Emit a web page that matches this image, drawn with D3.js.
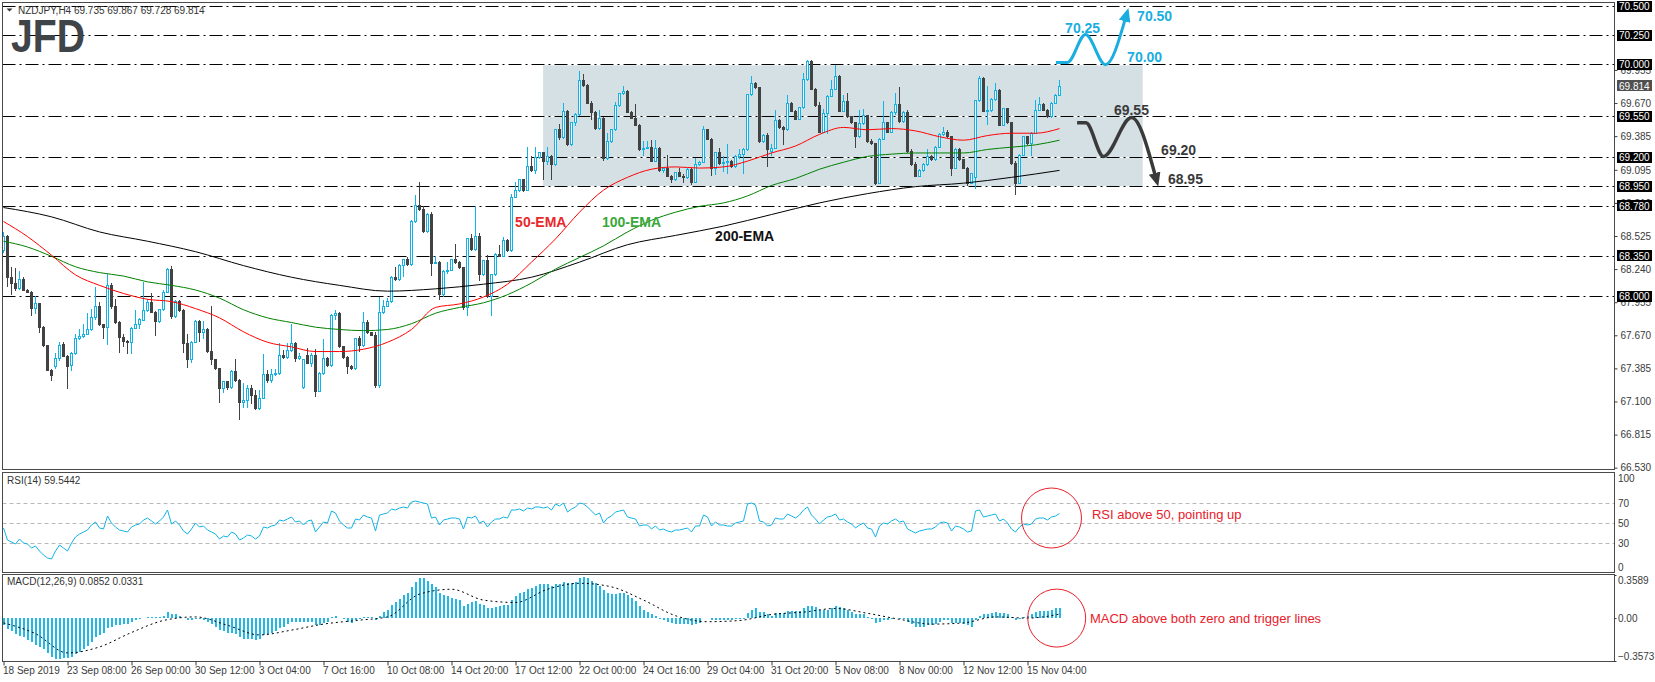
<!DOCTYPE html>
<html>
<head>
<meta charset="utf-8">
<title>NZDJPY H4</title>
<script src="https://cdn.jsdelivr.net/npm/d3@7"></script>
<style>
  html, body { margin: 0; padding: 0; background: #ffffff; }
  svg { display: block; font-family: "Liberation Sans", Arial, sans-serif; }
</style>
</head>
<body>
<div id="chart"></div>
<script>
// NZDJPY H4 bars (bar 0 = 18 Sep 2019)
var opens = [
  68.40, 68.52, 68.17, 68.12, 68.07, 68.15, 68.06, 68.04, 67.90, 67.94,
  67.74, 67.58, 67.37, 67.40, 67.47, 67.59, 67.49, 67.41, 67.51, 67.64,
  67.66, 67.68, 67.72, 67.82, 67.92, 67.76, 67.74, 68.10, 67.92, 67.78,
  67.65, 67.62, 67.61, 67.73, 67.76, 67.80, 67.88, 67.95, 67.87, 67.79,
  67.89, 68.04, 68.24, 67.83, 67.96, 67.88, 67.60, 67.46, 67.61, 67.79,
  67.69, 67.72, 67.53, 67.46, 67.38, 67.21, 67.27, 67.22, 67.36, 67.28,
  67.09, 67.11, 67.21, 67.15, 67.04, 67.13, 67.33, 67.28, 67.33, 67.34,
  67.50, 67.48, 67.54, 67.60, 67.47, 67.22, 67.50, 67.43, 67.50, 67.19,
  67.34, 67.47, 67.41, 67.84, 67.86, 67.57, 67.48, 67.40, 67.38, 67.64,
  67.58, 67.78, 67.69, 67.67, 67.24, 67.87, 67.92, 67.96, 68.17, 68.15,
  68.27, 68.32, 68.28, 68.65, 68.79, 68.75, 68.56, 68.71, 68.29, 68.30,
  68.02, 68.22, 68.23, 68.32, 68.30, 68.25, 67.91, 68.50, 68.41, 68.52,
  68.19, 68.31, 68.00, 68.19, 68.37, 68.35, 68.49, 68.40, 68.86, 68.92,
  69.01, 68.92, 69.12, 69.09, 69.20, 69.24, 69.17, 69.21, 69.14, 69.44,
  69.37, 69.60, 69.31, 69.50, 69.57, 69.86, 69.82, 69.67, 69.59, 69.45,
  69.54, 69.19, 69.34, 69.44, 69.65, 69.75, 69.77, 69.59, 69.54, 69.48,
  69.27, 69.28, 69.29, 69.17, 69.28, 69.09, 69.11, 69.04, 69.01, 69.07,
  69.04, 69.03, 69.10, 68.99, 69.14, 69.16, 69.44, 69.36, 69.11, 69.24,
  69.15, 69.16, 69.17, 69.12, 69.21, 69.23, 69.27, 69.74, 69.84, 69.80,
  69.34, 69.39, 69.25, 69.28, 69.52, 69.46, 69.44, 69.67, 69.60, 69.53,
  69.63, 69.87, 70.03, 69.79, 69.65, 69.42, 69.58, 69.73, 69.79, 69.90,
  69.60, 69.68, 69.55, 69.50, 69.38, 69.49, 69.56, 69.34, 69.32, 68.98,
  69.36, 69.50, 69.42, 69.59, 69.66, 69.51, 69.59, 69.25, 69.145, 69.04,
  69.09, 69.14, 69.21, 69.18, 69.29, 69.40, 69.42, 69.38, 69.11, 69.27,
  69.18, 69.11, 68.98, 69.03, 69.69, 69.88, 69.60, 69.61, 69.70, 69.78,
  69.48, 69.62, 69.50, 69.15, 68.98, 69.22, 69.38, 69.32, 69.41, 69.61,
  69.66, 69.61, 69.55, 69.67, 69.735
];
var highs = [
  68.56, 68.53, 68.26, 68.25, 68.22, 68.17, 68.07, 68.05, 68.01, 67.95,
  67.75, 67.59, 67.38, 67.52, 67.61, 67.61, 67.50, 67.53, 67.68, 67.72,
  67.77, 67.86, 67.90, 68.09, 67.96, 67.77, 68.20, 68.12, 67.98, 67.79,
  67.68, 67.63, 67.74, 67.89, 67.82, 68.13, 67.98, 68.03, 67.88, 67.90,
  68.06, 68.25, 68.27, 67.97, 67.97, 67.90, 67.68, 67.62, 67.80, 67.80,
  67.79, 67.73, 67.92, 67.47, 67.39, 67.28, 67.28, 67.37, 67.47, 67.29,
  67.26, 67.24, 67.24, 67.20, 67.20, 67.51, 67.37, 67.38, 67.38, 67.60,
  67.54, 67.60, 67.77, 67.61, 67.52, 67.47, 67.56, 67.52, 67.55, 67.35,
  67.64, 67.48, 67.85, 67.89, 67.87, 67.58, 67.49, 67.41, 67.65, 67.66,
  67.87, 67.80, 67.70, 67.70, 68.00, 67.97, 67.99, 68.18, 68.26, 68.28,
  68.33, 68.34, 68.66, 68.88, 68.99, 68.78, 68.72, 68.73, 68.35, 68.31,
  68.23, 68.30, 68.33, 68.46, 68.31, 68.26, 68.51, 68.54, 68.78, 68.55,
  68.32, 68.36, 68.20, 68.38, 68.45, 68.52, 68.50, 68.89, 68.99, 69.02,
  69.02, 69.29, 69.21, 69.29, 69.25, 69.25, 69.29, 69.22, 69.45, 69.49,
  69.67, 69.61, 69.51, 69.58, 69.95, 69.92, 69.83, 69.69, 69.60, 69.61,
  69.55, 69.41, 69.45, 69.68, 69.76, 69.82, 69.78, 69.60, 69.66, 69.49,
  69.34, 69.34, 69.35, 69.35, 69.29, 69.12, 69.22, 69.05, 69.08, 69.11,
  69.06, 69.11, 69.11, 69.20, 69.17, 69.47, 69.45, 69.37, 69.25, 69.28,
  69.21, 69.32, 69.18, 69.22, 69.27, 69.28, 69.75, 69.90, 69.85, 69.81,
  69.40, 69.41, 69.32, 69.61, 69.53, 69.47, 69.74, 69.68, 69.61, 69.64,
  69.93, 70.04, 70.04, 69.80, 69.68, 69.62, 69.74, 69.87, 70.00, 69.91,
  69.74, 69.76, 69.56, 69.51, 69.61, 69.62, 69.57, 69.36, 69.33, 69.37,
  69.69, 69.51, 69.60, 69.76, 69.81, 69.60, 69.61, 69.27, 69.16, 69.10,
  69.15, 69.27, 69.22, 69.30, 69.41, 69.46, 69.44, 69.39, 69.28, 69.28,
  69.19, 69.12, 69.07, 69.70, 69.90, 69.89, 69.82, 69.71, 69.84, 69.79,
  69.63, 69.63, 69.51, 69.17, 69.23, 69.39, 69.39, 69.42, 69.70, 69.72,
  69.67, 69.62, 69.68, 69.75, 69.867
];
var lows = [
  68.38, 68.09, 68.02, 68.05, 68.06, 68.05, 68.03, 67.84, 67.85, 67.69,
  67.57, 67.36, 67.28, 67.38, 67.45, 67.48, 67.21, 67.36, 67.50, 67.63,
  67.65, 67.67, 67.71, 67.80, 67.75, 67.64, 67.59, 67.90, 67.77, 67.52,
  67.57, 67.51, 67.51, 67.72, 67.72, 67.79, 67.87, 67.86, 67.66, 67.78,
  67.88, 68.03, 67.81, 67.82, 67.87, 67.52, 67.39, 67.43, 67.60, 67.61,
  67.64, 67.52, 67.41, 67.37, 67.09, 67.17, 67.20, 67.21, 67.27, 66.94,
  67.04, 67.04, 67.08, 67.03, 67.03, 67.12, 67.26, 67.26, 67.32, 67.33,
  67.47, 67.47, 67.53, 67.44, 67.46, 67.21, 67.42, 67.40, 67.14, 67.18,
  67.33, 67.40, 67.40, 67.80, 67.56, 67.47, 67.34, 67.37, 67.37, 67.53,
  67.57, 67.68, 67.66, 67.22, 67.22, 67.85, 67.91, 67.95, 68.14, 68.14,
  68.17, 68.27, 68.27, 68.64, 68.74, 68.55, 68.55, 68.18, 68.28, 67.97,
  68.00, 68.20, 68.22, 68.28, 68.24, 67.89, 67.84, 68.40, 68.40, 68.14,
  68.18, 67.99, 67.84, 68.18, 68.34, 68.34, 68.39, 68.39, 68.85, 68.90,
  68.90, 68.91, 69.08, 69.06, 69.19, 69.01, 69.14, 69.01, 69.13, 69.35,
  69.36, 69.30, 69.30, 69.47, 69.56, 69.81, 69.66, 69.52, 69.44, 69.44,
  69.17, 69.18, 69.33, 69.43, 69.64, 69.74, 69.58, 69.53, 69.47, 69.26,
  69.21, 69.27, 69.16, 69.16, 69.08, 69.07, 69.03, 68.98, 69.00, 69.03,
  68.98, 69.02, 68.96, 68.98, 69.13, 69.15, 69.35, 69.04, 69.05, 69.14,
  69.08, 69.06, 69.11, 69.11, 69.19, 69.06, 69.26, 69.73, 69.79, 69.33,
  69.33, 69.12, 69.21, 69.27, 69.45, 69.31, 69.43, 69.59, 69.52, 69.52,
  69.62, 69.86, 69.78, 69.64, 69.41, 69.41, 69.40, 69.72, 69.78, 69.59,
  69.59, 69.54, 69.49, 69.28, 69.37, 69.48, 69.33, 69.31, 68.96, 68.97,
  69.35, 69.41, 69.41, 69.57, 69.50, 69.50, 69.24, 69.13, 69.03, 69.03,
  69.08, 69.13, 69.17, 69.17, 69.28, 69.39, 69.37, 69.04, 69.10, 69.17,
  69.10, 68.955, 68.97, 68.93, 69.68, 69.59, 69.48, 69.59, 69.69, 69.47,
  69.47, 69.49, 69.14, 68.88, 68.97, 69.21, 69.31, 69.21, 69.40, 69.60,
  69.60, 69.54, 69.54, 69.66, 69.728
];
var closes = [
  68.52, 68.17, 68.12, 68.07, 68.15, 68.06, 68.04, 67.90, 67.94, 67.74,
  67.58, 67.37, 67.32, 67.47, 67.58, 67.49, 67.40, 67.51, 67.64, 67.66,
  67.68, 67.72, 67.82, 67.92, 67.76, 67.74, 68.10, 67.92, 67.78, 67.65,
  67.62, 67.61, 67.73, 67.76, 67.81, 67.88, 67.95, 67.87, 67.79, 67.89,
  68.04, 68.24, 67.83, 67.96, 67.88, 67.60, 67.46, 67.61, 67.79, 67.69,
  67.72, 67.53, 67.46, 67.38, 67.21, 67.27, 67.22, 67.36, 67.28, 67.09,
  67.11, 67.21, 67.15, 67.04, 67.13, 67.33, 67.28, 67.33, 67.34, 67.50,
  67.48, 67.54, 67.60, 67.47, 67.49, 67.46, 67.43, 67.50, 67.19, 67.34,
  67.47, 67.41, 67.84, 67.86, 67.57, 67.48, 67.40, 67.38, 67.64, 67.58,
  67.78, 67.69, 67.67, 67.24, 67.87, 67.92, 67.96, 68.17, 68.15, 68.27,
  68.32, 68.28, 68.65, 68.79, 68.75, 68.56, 68.71, 68.29, 68.30, 68.02,
  68.22, 68.23, 68.32, 68.30, 68.25, 67.91, 68.50, 68.41, 68.52, 68.19,
  68.31, 68.00, 68.19, 68.37, 68.35, 68.49, 68.40, 68.86, 68.92, 69.01,
  68.92, 69.12, 69.09, 69.20, 69.24, 69.17, 69.21, 69.14, 69.44, 69.37,
  69.60, 69.31, 69.50, 69.57, 69.86, 69.82, 69.67, 69.59, 69.45, 69.54,
  69.19, 69.34, 69.44, 69.65, 69.75, 69.77, 69.59, 69.54, 69.48, 69.27,
  69.28, 69.29, 69.17, 69.28, 69.09, 69.11, 69.04, 69.01, 69.07, 69.04,
  69.03, 69.10, 68.99, 69.14, 69.16, 69.44, 69.36, 69.11, 69.24, 69.15,
  69.16, 69.17, 69.12, 69.21, 69.23, 69.27, 69.74, 69.84, 69.80, 69.34,
  69.39, 69.27, 69.28, 69.52, 69.46, 69.44, 69.67, 69.60, 69.53, 69.63,
  69.87, 70.03, 69.79, 69.65, 69.42, 69.58, 69.73, 69.79, 69.90, 69.60,
  69.68, 69.55, 69.50, 69.38, 69.49, 69.56, 69.34, 69.32, 68.98, 69.36,
  69.50, 69.42, 69.59, 69.66, 69.51, 69.59, 69.25, 69.145, 69.04, 69.09,
  69.14, 69.21, 69.18, 69.29, 69.40, 69.42, 69.38, 69.11, 69.27, 69.18,
  69.11, 68.98, 69.06, 69.69, 69.88, 69.60, 69.61, 69.70, 69.78, 69.48,
  69.62, 69.50, 69.15, 68.98, 69.22, 69.38, 69.32, 69.41, 69.61, 69.66,
  69.61, 69.55, 69.67, 69.735, 69.814
];

// moving averages read every 6 bars (200-EMA every 12 bars)
var emaStep = 6;
var ema50 = [
  68.65, 68.52, 68.36, 68.19, 68.10, 68.03, 67.98, 67.96, 67.90, 67.82,
  67.70, 67.61, 67.57, 67.53, 67.53, 67.55, 67.61, 67.72, 67.91, 67.94,
  68.00, 68.11, 68.30, 68.50, 68.73, 68.92, 69.03, 69.10, 69.12, 69.11,
  69.12, 69.17, 69.24, 69.30, 69.40, 69.46, 69.44, 69.45, 69.43, 69.38,
  69.35, 69.39, 69.41, 69.41, 69.45
];
var ema100 = [
  68.48, 68.43, 68.35, 68.26, 68.21, 68.18, 68.13, 68.10, 68.06, 67.99,
  67.89, 67.82, 67.78, 67.74, 67.72, 67.71, 67.72, 67.77, 67.86, 67.91,
  67.95, 68.02, 68.12, 68.24, 68.34, 68.44, 68.56, 68.66, 68.73, 68.78,
  68.81, 68.87, 68.96, 69.02, 69.10, 69.16, 69.21, 69.23, 69.24, 69.24,
  69.24, 69.27, 69.29, 69.31, 69.35
];
var ema200Step = 12;
var ema200 = [
  68.77, 68.69, 68.56, 68.48, 68.39, 68.27, 68.17, 68.10, 68.05, 68.07,
  68.11, 68.17, 68.30, 68.45, 68.53, 68.61, 68.71, 68.81, 68.89, 68.95,
  68.98, 69.03, 69.09
];

// RSI(14), one value per bar
var rsi = [
  45, 33, 31, 29, 34, 30, 29, 25, 27, 22,
  18, 15, 14, 22, 28, 25, 22, 30, 36, 39,
  41, 43, 48, 51, 45, 44, 57, 50, 46, 43,
  42, 41, 46, 48, 49, 53, 55, 52, 49, 52,
  56, 63, 49, 52, 48, 42, 39, 44, 50, 46,
  47, 43, 41, 39, 34, 37, 36, 41, 39, 33,
  35, 38, 37, 34, 37, 46, 45, 47, 48, 53,
  52, 54, 56, 51, 52, 48, 52, 53, 41, 46,
  51, 50, 62, 60, 52, 48, 45, 45, 54, 53,
  58, 56, 55, 42, 58, 59, 60, 64, 63, 65,
  66, 65, 71, 72, 71, 70, 69, 55, 56, 48,
  53, 54, 55, 55, 54, 44, 56, 55, 57, 50,
  52, 46, 51, 54, 54, 56, 55, 63, 63, 64,
  62, 65, 64, 66, 66, 65, 66, 63, 69, 67,
  70, 61, 64, 66, 70, 69, 66, 62, 58, 60,
  50, 55, 57, 61, 62, 63, 56, 55, 54, 47,
  48, 48, 44, 47, 43, 44, 42, 41, 43, 43,
  44, 45, 41, 47, 47, 58, 56, 47, 51, 48,
  48, 47, 47, 50, 51, 52, 69, 70, 68, 52,
  51, 47, 48, 55, 54, 54, 59, 57, 55, 58,
  63, 66, 58, 54, 49, 53, 56, 57, 59, 53,
  54, 51, 49, 45, 48, 50, 45, 44, 36, 47,
  50, 49, 52, 54, 51, 52, 44, 42, 40, 42,
  43, 44, 44, 46, 50, 51, 50, 42, 47, 46,
  44, 41, 42, 62, 63, 56, 57, 58, 59, 52,
  54, 50, 44, 41, 46, 49, 48, 49, 54, 55,
  55, 53, 56, 57, 59.5442
];
var rsiLevels = [70, 50, 30];
var rsiTicks = [100, 70, 50, 30, 0];

// MACD(12,26,9): main histogram per bar, signal read every 8 bars
var macdMain = [
  -0.06, -0.09, -0.11, -0.13, -0.15, -0.16, -0.18, -0.20, -0.22, -0.24,
  -0.26, -0.29, -0.32, -0.34, -0.34, -0.33, -0.33, -0.32, -0.30, -0.28,
  -0.26, -0.23, -0.20, -0.16, -0.14, -0.12, -0.08, -0.07, -0.06, -0.06,
  -0.05, -0.05, -0.03, -0.02, -0.01, 0.00, 0.01, 0.01, 0.01, 0.01,
  0.02, 0.05, 0.03, 0.03, 0.02, 0.00, -0.02, -0.02, -0.01, -0.01,
  -0.02, -0.03, -0.05, -0.07, -0.10, -0.11, -0.12, -0.12, -0.13, -0.16,
  -0.17, -0.17, -0.17, -0.18, -0.17, -0.14, -0.13, -0.12, -0.11, -0.08,
  -0.07, -0.05, -0.03, -0.03, -0.03, -0.03, -0.03, -0.03, -0.06, -0.06,
  -0.04, -0.03, 0.01, 0.02, 0.00, -0.01, -0.03, -0.04, -0.02, -0.01,
  0.01, 0.01, 0.01, -0.02, 0.02, 0.05, 0.07, 0.11, 0.13, 0.16,
  0.19, 0.21, 0.26, 0.30, 0.33, 0.33, 0.31, 0.28, 0.26, 0.21,
  0.19, 0.18, 0.17, 0.16, 0.15, 0.10, 0.12, 0.13, 0.14, 0.12,
  0.11, 0.08, 0.08, 0.09, 0.10, 0.11, 0.11, 0.15, 0.18, 0.21,
  0.22, 0.24, 0.25, 0.27, 0.28, 0.28, 0.28, 0.27, 0.28, 0.28,
  0.30, 0.29, 0.29, 0.30, 0.33, 0.34, 0.33, 0.31, 0.29, 0.27,
  0.23, 0.21, 0.20, 0.20, 0.21, 0.21, 0.19, 0.17, 0.14, 0.10,
  0.07, 0.05, 0.03, 0.02, -0.01, -0.02, -0.03, -0.04, -0.05, -0.05,
  -0.05, -0.05, -0.06, -0.05, -0.04, 0.00, 0.00, -0.02, -0.02, -0.02,
  -0.02, -0.02, -0.02, -0.01, -0.01, -0.01, 0.04, 0.07, 0.08, 0.05,
  0.05, 0.03, 0.02, 0.04, 0.04, 0.04, 0.06, 0.06, 0.06, 0.06,
  0.08, 0.10, 0.10, 0.09, 0.07, 0.07, 0.07, 0.08, 0.10, 0.09,
  0.08, 0.07, 0.05, 0.03, 0.03, 0.03, 0.01, -0.01, -0.04, -0.03,
  -0.02, -0.02, -0.01, 0.00, -0.01, -0.01, -0.03, -0.05, -0.07, -0.07,
  -0.07, -0.06, -0.06, -0.05, -0.03, -0.02, -0.02, -0.04, -0.04, -0.04,
  -0.05, -0.06, -0.07, -0.02, 0.02, 0.03, 0.03, 0.04, 0.05, 0.04,
  0.04, 0.03, 0.01, -0.02, -0.01, 0.01, 0.02, 0.03, 0.05, 0.06,
  0.06, 0.06, 0.07, 0.08, 0.0852
];
var signalStep = 8;
var macdSignal = [
  -0.04, -0.13, -0.29, -0.24, -0.12, -0.02, 0.01, -0.06, -0.14, -0.10,
  -0.05, -0.02, 0.01, 0.20, 0.24, 0.15, 0.13, 0.24, 0.29, 0.26,
  0.15, 0.02, -0.03, -0.02, 0.03, 0.05, 0.08, 0.04, -0.01, -0.05,
  -0.04, 0.01, 0.00, 0.0331
];
var macdTicks = [0.3589, 0, -0.3573];

// axes
var priceTicks = [66.530, 66.815, 67.100, 67.385, 67.670, 67.955, 68.240, 68.525, 68.810, 69.095, 69.385, 69.670, 69.955];
var levels = [70.50, 70.25, 70.00, 69.55, 69.20, 68.95, 68.78, 68.35, 68.00];
var lastPrice = 69.814;
var dateIdx = [0, 16, 32, 48, 64, 80, 96, 112, 128, 144, 160, 176, 192, 208, 224, 240, 256];
var dateLabels = ["18 Sep 2019", "23 Sep 08:00", "26 Sep 00:00", "30 Sep 12:00", "3 Oct 04:00",
  "7 Oct 16:00", "10 Oct 08:00", "14 Oct 20:00", "17 Oct 12:00", "22 Oct 00:00", "24 Oct 16:00",
  "29 Oct 04:00", "31 Oct 20:00", "5 Nov 08:00", "8 Nov 00:00", "12 Nov 12:00", "15 Nov 04:00"];

// drawings on the chart, in [bar, price]
var boxBars = [134.9, 284.8];
var boxPrices = [69.995, 68.95];
var bullPath = [[263.1, 70.02], [266.0, 70.02], [270.5, 70.26], [275.5, 70.00], [280.4, 70.39]];
var bearPath = [[268.4, 69.50], [270.6, 69.50], [275.0, 69.21], [282.0, 69.545], [287.9, 69.05]];
var bullTags = [["70.25", 265.4, 70.27], ["70.50", 283.4, 70.38], ["70.00", 280.9, 70.02]];
var bearTags = [["69.55", 277.6, 69.57], ["69.20", 289.4, 69.22], ["68.95", 291.1, 68.97]];
var emaTags = [["50-EMA", 127.9, 68.60, "#e8282b"], ["100-EMA", 149.6, 68.60, "#3aa83a"], ["200-EMA", 177.9, 68.48, "#111111"]];

var upColor = "#10b3e6";
var downColor = "#424242";
var frameColor = "#4a4a4a";
var axisColor = "#3a3a3a";

var W = 1655, H = 682;
var left = 2.5, right = 1614.5;

var svg = d3.select("#chart").append("svg")
            .attr("width", W)
            .attr("height", H);

svg.append("rect").attr("width", W).attr("height", H).attr("fill", "#ffffff");

var x = d3.scaleLinear().domain([0, 264]).range([3.5, 1059.5]);
var y = d3.scaleLinear().domain([66.51, 70.54]).range([470, 2]);
var yRsi = d3.scaleLinear().domain([0, 100]).range([573, 473]);
var yMacd = d3.scaleLinear().domain([-0.3573, 0.3589]).range([661, 575]);

function crisp(v) { return Math.round(v - 0.5) + 0.5; }

var defs = svg.append("defs");
function clip(id, y0, y1) {
    defs.append("clipPath").attr("id", id)
        .append("rect").attr("x", left).attr("y", y0).attr("width", right - left).attr("height", y1 - y0);
}
clip("clipMain", 2.5, 469.5);
clip("clipRsi", 472.5, 572.5);
clip("clipMacd", 574.5, 661.5);

function arrowMarker(id, color) {
    defs.append("marker").attr("id", id)
        .attr("viewBox", "0 -6 14 12")
        .attr("refX", 2).attr("refY", 0)
        .attr("markerWidth", 14).attr("markerHeight", 12)
        .attr("markerUnits", "userSpaceOnUse")
        .attr("orient", "auto")
        .append("path").attr("d", "M0,-6L14,0L0,6Z").attr("fill", color);
}
arrowMarker("arrowBull", "#1aaee0");
arrowMarker("arrowBear", "#3a3a3a");

// ---- main panel ----
var main = svg.append("g").attr("clip-path", "url(#clipMain)");

main.append("rect")
    .attr("x", x(boxBars[0]))
    .attr("width", x(boxBars[1]) - x(boxBars[0]))
    .attr("y", y(boxPrices[0]))
    .attr("height", y(boxPrices[1]) - y(boxPrices[0]))
    .attr("fill", "#d4e0e4");

main.selectAll("line.levelbg").data(levels).enter().append("line")
    .attr("x1", left).attr("x2", right)
    .attr("y1", d => crisp(y(d))).attr("y2", d => crisp(y(d)))
    .attr("stroke", "#ffffff");
main.selectAll("line.level").data(levels).enter().append("line")
    .attr("x1", left).attr("x2", right)
    .attr("y1", d => crisp(y(d))).attr("y2", d => crisp(y(d)))
    .attr("stroke", "#000000")
    .attr("stroke-dasharray", "13,4,2,4");

var bars = d3.range(closes.length).map(function(i) {
    return { i: i, o: opens[i], h: highs[i], l: lows[i], c: closes[i] };
});

var candles = main.append("g").attr("shape-rendering", "crispEdges");
var candle = candles.selectAll("g").data(bars).enter().append("g");
candle.append("line")
      .attr("x1", d => x(d.i)).attr("x2", d => x(d.i))
      .attr("y1", d => y(d.h)).attr("y2", d => y(d.l))
      .attr("stroke", d => d.c >= d.o ? upColor : downColor);
candle.append("rect")
      .attr("x", d => x(d.i) - 1)
      .attr("width", 2)
      .attr("y", d => y(Math.max(d.o, d.c)))
      .attr("height", d => Math.max(0.6, Math.abs(y(d.o) - y(d.c))))
      .attr("fill", d => d.c >= d.o ? "#ffffff" : downColor)
      .attr("stroke", d => d.c >= d.o ? upColor : downColor);

function emaLine(step) {
    return d3.line()
             .x((d, i) => x(i * step))
             .y(d => y(d))
             .curve(d3.curveMonotoneX);
}
main.append("path").attr("d", emaLine(ema200Step)(ema200)).attr("fill", "none").attr("stroke", "#000000").attr("stroke-width", 1);
main.append("path").attr("d", emaLine(emaStep)(ema100)).attr("fill", "none").attr("stroke", "#008000").attr("stroke-width", 1);
main.append("path").attr("d", emaLine(emaStep)(ema50)).attr("fill", "none").attr("stroke", "#ff0000").attr("stroke-width", 1);

main.selectAll("text.ematag").data(emaTags).enter().append("text")
    .attr("x", d => x(d[1])).attr("y", d => y(d[2]))
    .attr("fill", d => d[3])
    .attr("font-size", 14).attr("font-weight", "bold")
    .text(d => d[0]);

var waveLine = d3.line().x(d => x(d[0])).y(d => y(d[1])).curve(d3.curveMonotoneX);
main.append("path").attr("d", waveLine(bullPath))
    .attr("fill", "none").attr("stroke", "#1aaee0").attr("stroke-width", 3)
    .attr("stroke-linejoin", "round")
    .attr("marker-end", "url(#arrowBull)");
main.append("path").attr("d", waveLine(bearPath))
    .attr("fill", "none").attr("stroke", "#3a3a3a").attr("stroke-width", 3.5)
    .attr("stroke-linejoin", "round")
    .attr("marker-end", "url(#arrowBear)");

main.selectAll("text.bull").data(bullTags).enter().append("text")
    .attr("x", d => x(d[1])).attr("y", d => y(d[2]))
    .attr("fill", "#1aaee0").attr("font-size", 14).attr("font-weight", "bold")
    .text(d => d[0]);
main.selectAll("text.bear").data(bearTags).enter().append("text")
    .attr("x", d => x(d[1])).attr("y", d => y(d[2]))
    .attr("fill", "#3a3a3a").attr("font-size", 14).attr("font-weight", "bold")
    .text(d => d[0]);

// logo + symbol line
svg.append("text").attr("x", 11).attr("y", 52)
   .attr("font-size", 47).attr("font-weight", "bold")
   .attr("textLength", 74).attr("lengthAdjust", "spacingAndGlyphs")
   .attr("fill", "#3f4449")
   .text("JFD");
svg.append("path").attr("d", "M6.5,8.5L12.5,8.5L9.5,11.5Z").attr("fill", "#333333");
svg.append("text").attr("x", 18).attr("y", 14)
   .attr("font-size", 10).attr("fill", "#333333")
   .text("NZDJPY,H4  69.735 69.867 69.728 69.814");

// ---- RSI panel ----
var rsiG = svg.append("g").attr("clip-path", "url(#clipRsi)");
rsiG.selectAll("line").data(rsiLevels).enter().append("line")
    .attr("x1", left).attr("x2", right)
    .attr("y1", d => crisp(yRsi(d))).attr("y2", d => crisp(yRsi(d)))
    .attr("stroke", "#b8b8b8").attr("stroke-dasharray", "4,3");
rsiG.append("path")
    .attr("d", d3.line().x((d, i) => x(i)).y(d => yRsi(d))(rsi))
    .attr("fill", "none").attr("stroke", upColor).attr("stroke-width", 1);
svg.append("text").attr("x", 7).attr("y", 484)
   .attr("font-size", 10).attr("fill", "#333333")
   .text("RSI(14) 59.5442");

// ---- MACD panel ----
var macdG = svg.append("g").attr("clip-path", "url(#clipMacd)");
macdG.append("g").attr("shape-rendering", "crispEdges")
     .selectAll("rect").data(macdMain).enter().append("rect")
     .attr("x", (d, i) => x(i) - 1)
     .attr("width", 2)
     .attr("y", d => Math.min(yMacd(d), yMacd(0)))
     .attr("height", d => Math.abs(yMacd(d) - yMacd(0)))
     .attr("fill", "#22b8e6");
macdG.append("path")
     .attr("d", d3.line().x((d, i) => x(i * signalStep)).y(d => yMacd(d)).curve(d3.curveMonotoneX)(macdSignal))
     .attr("fill", "none").attr("stroke", "#000000").attr("stroke-width", 1)
     .attr("stroke-dasharray", "2,3");
svg.append("text").attr("x", 7).attr("y", 585)
   .attr("font-size", 10).attr("fill", "#333333")
   .text("MACD(12,26,9) 0.0852 0.0331");

// circles + notes
svg.append("ellipse").attr("cx", x(262.0)).attr("cy", yRsi(55)).attr("rx", 30).attr("ry", 30)
   .attr("fill", "none").attr("stroke", "#e8202a").attr("stroke-width", 1);
svg.append("ellipse").attr("cx", x(263.3)).attr("cy", yMacd(0)).attr("rx", 29).attr("ry", 29)
   .attr("fill", "none").attr("stroke", "#e8202a").attr("stroke-width", 1);
svg.append("text").attr("x", x(272.1)).attr("y", yRsi(59)).attr("dy", "0.35em")
   .attr("font-size", 13).attr("fill", "#e8202a")
   .text("RSI above 50, pointing up");
svg.append("text").attr("x", x(271.6)).attr("y", yMacd(0)).attr("dy", "0.35em")
   .attr("font-size", 13).attr("fill", "#e8202a")
   .text("MACD above both zero and trigger lines");

// ---- frames ----
function frame(y0, y1) {
    svg.append("rect").attr("x", left).attr("y", y0).attr("width", right - left).attr("height", y1 - y0)
       .attr("fill", "none").attr("stroke", frameColor).attr("stroke-width", 1);
}
frame(2.5, 469.5);
frame(472.5, 572.5);
frame(574.5, 661.5);

// ---- right axes ----
var priceAxis = svg.append("g").attr("transform", "translate(" + right + ",0)")
    .call(d3.axisRight(y).tickValues(priceTicks).tickFormat(d3.format(".3f")).tickSize(3));
var rsiAxis = svg.append("g").attr("transform", "translate(" + right + ",0)")
    .call(d3.axisRight(yRsi).tickValues(rsiTicks).tickSize(0).tickPadding(3.5));
rsiAxis.selectAll("text").attr("dy", d => d === 100 ? "0.85em" : (d === 0 ? "-0.25em" : "0.32em"));
var macdAxis = svg.append("g").attr("transform", "translate(" + right + ",0)")
    .call(d3.axisRight(yMacd).tickValues(macdTicks).tickSize(2).tickPadding(1.5)
            .tickFormat(d => d === 0 ? "0.00" : d3.format(".4f")(d)));
macdAxis.selectAll("text").attr("dy", d => d > 0 ? "0.85em" : (d < 0 ? "-0.2em" : "0.32em"));

[priceAxis, rsiAxis, macdAxis].forEach(function(g) {
    g.select(".domain").remove();
    g.selectAll("line").attr("stroke", axisColor);
    g.selectAll("text").attr("font-size", 10).attr("fill", axisColor)
     .attr("font-family", "'Liberation Sans', Arial, sans-serif");
});

var levelTags = svg.append("g");
levelTags.selectAll("rect").data(levels).enter().append("rect")
    .attr("x", 1617).attr("width", 35)
    .attr("y", d => Math.round(y(d)) - 6).attr("height", 11)
    .attr("fill", "#000000");
levelTags.selectAll("text").data(levels).enter().append("text")
    .attr("x", 1619).attr("y", d => y(d)).attr("dy", "0.34em")
    .attr("font-size", 10).attr("fill", "#ffffff")
    .text(d => d3.format(".3f")(d));
levelTags.append("rect").attr("x", 1617).attr("width", 35)
    .attr("y", Math.round(y(lastPrice)) - 6).attr("height", 11).attr("fill", "#505050");
levelTags.append("text").attr("x", 1619).attr("y", y(lastPrice)).attr("dy", "0.34em")
    .attr("font-size", 10).attr("fill", "#ffffff")
    .text(d3.format(".3f")(lastPrice));

// ---- time axis ----
var timeAxis = svg.append("g").attr("transform", "translate(0,661.5)")
    .call(d3.axisBottom(x).tickValues(dateIdx).tickSize(4).tickSizeOuter(0)
            .tickFormat((d, i) => dateLabels[i]));
timeAxis.select(".domain").remove();
timeAxis.selectAll("line").attr("stroke", axisColor);
timeAxis.selectAll("text")
    .attr("text-anchor", "start").attr("x", -1).attr("y", 5)
    .attr("font-size", 10).attr("fill", axisColor)
    .attr("font-family", "'Liberation Sans', Arial, sans-serif");
</script>
</body>
</html>
